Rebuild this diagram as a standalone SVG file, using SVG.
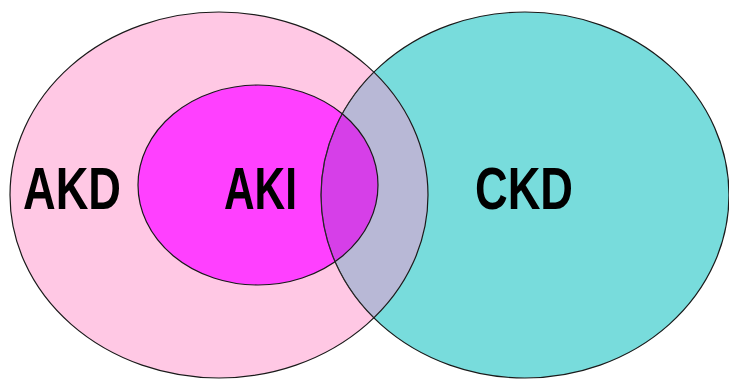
<svg xmlns="http://www.w3.org/2000/svg" width="729" height="379" viewBox="0 0 729 379">
<style>
.lbl{font-family:"Liberation Sans",Arial,sans-serif;font-weight:bold;font-size:60px;fill:#000}
.edge{fill:none;stroke:#1a1a1a;stroke-width:1.2}
.inner{fill:none;stroke:#333;stroke-opacity:0.55;stroke-width:1}
</style>
<defs>
<clipPath id="cPink"><ellipse cx="219" cy="195" rx="209" ry="183"/></clipPath>
<clipPath id="cAki"><ellipse cx="258" cy="185" rx="120" ry="100"/></clipPath>
</defs>
<rect width="729" height="379" fill="#fff"/>
<g id="ckd">
<ellipse cx="525" cy="195" rx="204" ry="183" fill="#78DCDC"/>
</g>
<g id="akd">
<ellipse cx="219" cy="195" rx="209" ry="183" fill="#FFC8E4"/>
</g>
<g id="aki">
<ellipse cx="258" cy="185" rx="120" ry="100" fill="#FF40FF"/>
</g>
<g id="overlap">
<ellipse cx="525" cy="195" rx="204" ry="183" fill="#B8B8D6" clip-path="url(#cPink)"/>
<ellipse cx="525" cy="195" rx="204" ry="183" fill="#D63FE8" clip-path="url(#cAki)"/>
</g>
<g id="outlines">
<ellipse class="edge" cx="219" cy="195" rx="209" ry="183"/>
<ellipse class="edge" cx="525" cy="195" rx="204" ry="183"/>
<ellipse class="edge" cx="258" cy="185" rx="120" ry="100"/>
<ellipse class="inner" cx="525" cy="195" rx="204" ry="183" clip-path="url(#cPink)"/>
</g>
<g id="labels">
<text class="lbl" x="23" y="209" textLength="98" lengthAdjust="spacingAndGlyphs">AKD</text>
<text class="lbl" x="224" y="209" textLength="73" lengthAdjust="spacingAndGlyphs">AKI</text>
<text class="lbl" x="475" y="209" textLength="98" lengthAdjust="spacingAndGlyphs">CKD</text>
</g>
</svg>
